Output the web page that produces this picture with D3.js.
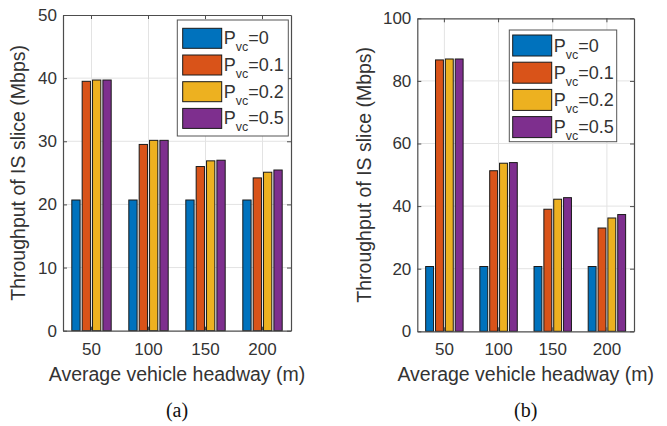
<!DOCTYPE html>
<html>
<head>
<meta charset="utf-8">
<script src="https://cdn.jsdelivr.net/npm/d3@7"></script>
<style>
  html, body { margin: 0; padding: 0; background: #fff; }
  svg { display: block; }
  text { font-family: "Liberation Sans", Arial, Helvetica, sans-serif; }
</style>
</head>
<body>
<svg id="chart" width="667" height="426"></svg>
<script>
// Headway categories (m) and vehicle-connection probabilities
const categories = ["50", "100", "150", "200"];
const pvcLabels = ["0", "0.1", "0.2", "0.5"];

// (a) throughput of the IS slice, Mbps
const a_pvc0  = [20.7, 20.7, 20.7, 20.7];
const a_pvc01 = [39.5, 29.5, 26.0, 24.2];
const a_pvc02 = [39.7, 30.15, 26.9, 25.1];
const a_pvc05 = [39.7, 30.15, 27.0, 25.45];

// (b) throughput of the IS slice, Mbps
const b_pvc0  = [20.7, 20.7, 20.7, 20.7];
const b_pvc01 = [86.7, 51.3, 39.0, 33.0];
const b_pvc02 = [87.0, 53.7, 42.2, 36.2];
const b_pvc05 = [87.0, 53.9, 42.7, 37.3];

const yTicksA = [0, 10, 20, 30, 40, 50];
const yTicksB = [0, 20, 40, 60, 80, 100];

const colors = ["#0072BD", "#D95319", "#EDB120", "#7E2F8E"];
const textColor = "#333";
const axisColor = "#4d4d4d";
const gridColor = "#e3e3e3";

const svg = d3.select("#chart");

function drawPanel(cfg) {
  const g = svg.append("g").attr("transform", `translate(${cfg.left},${cfg.top})`);
  const W = cfg.width, H = cfg.height;

  const x0 = d3.scaleBand().domain(categories).range([0, W]).padding(0);
  const groupFrac = 4 / (4 + 1.5);
  const bw = x0.bandwidth();
  const x1 = d3.scaleBand().domain(d3.range(cfg.series.length))
    .range([bw * (1 - groupFrac) / 2, bw * (1 + groupFrac) / 2])
    .paddingInner(0.2).paddingOuter(0.1);
  const y = d3.scaleLinear().domain([0, cfg.yTicks[cfg.yTicks.length - 1]]).range([H, 0]);

  // grid
  g.append("g").selectAll("line.gy").data(cfg.yTicks.slice(1, -1)).join("line")
    .attr("x1", 0).attr("x2", W).attr("y1", d => y(d)).attr("y2", d => y(d))
    .attr("stroke", gridColor).attr("stroke-width", 1);
  g.append("g").selectAll("line.gx").data(categories).join("line")
    .attr("x1", d => x0(d) + bw / 2).attr("x2", d => x0(d) + bw / 2)
    .attr("y1", 0).attr("y2", H)
    .attr("stroke", gridColor).attr("stroke-width", 1);

  // bars
  cfg.series.forEach((vals, si) => {
    g.append("g").selectAll("rect").data(vals).join("rect")
      .attr("x", (d, i) => x0(categories[i]) + x1(si))
      .attr("width", x1.bandwidth())
      .attr("y", d => y(d))
      .attr("height", d => H - y(d))
      .attr("fill", colors[si])
      .attr("stroke", "#1a1a1a")
      .attr("stroke-width", 1);
  });

  // axes (ticks inward)
  const yAxis = d3.axisLeft(y).tickValues(cfg.yTicks).tickSizeInner(-4).tickSizeOuter(0).tickPadding(6);
  const yAxisR = d3.axisRight(y).tickValues(cfg.yTicks).tickSizeInner(-4).tickSizeOuter(0).tickFormat("");
  const xAxis = d3.axisBottom(x0).tickSizeInner(-4).tickSizeOuter(0).tickPadding(12);
  const xAxisT = d3.axisTop(x0).tickSizeInner(-4).tickSizeOuter(0).tickFormat("");

  const styleAxis = sel => {
    sel.selectAll("path").attr("stroke", axisColor).attr("stroke-width", 1.2);
    sel.selectAll("line").attr("stroke", axisColor);
    sel.selectAll("text").attr("fill", textColor).style("font-size", "17px")
      .style("font-family", '"Liberation Sans", Arial, sans-serif');
  };

  g.append("g").call(yAxis).call(styleAxis);
  g.append("g").attr("transform", `translate(${W},0)`).call(yAxisR).call(styleAxis);
  g.append("g").attr("transform", `translate(0,${H})`).call(xAxis).call(styleAxis);
  g.append("g").call(xAxisT).call(styleAxis);

  // axis labels
  g.append("text")
    .attr("x", W / 2).attr("y", H + 50)
    .attr("text-anchor", "middle").attr("fill", textColor)
    .style("font-size", "19.5px")
    .text("Average vehicle headway (m)");
  g.append("text")
    .attr("transform", `translate(${cfg.ylabelX},${H / 2}) rotate(-90)`)
    .attr("text-anchor", "middle").attr("fill", textColor)
    .style("font-size", "19.5px")
    .text("Throughput of IS slice (Mbps)");

  // legend
  const lg = svg.append("g").attr("transform", `translate(${cfg.legend.x},${cfg.legend.y})`);
  lg.append("rect").attr("width", cfg.legend.w).attr("height", cfg.legend.h)
    .attr("fill", "#fff").attr("stroke", "#555").attr("stroke-width", 1);
  pvcLabels.forEach((lab, i) => {
    const ry = cfg.legend.padTop + i * cfg.legend.pitch;
    lg.append("rect")
      .attr("x", cfg.legend.padLeft).attr("y", ry)
      .attr("width", cfg.legend.sw).attr("height", cfg.legend.sh)
      .attr("fill", colors[i]).attr("stroke", "#1a1a1a").attr("stroke-width", 1);
    const t = lg.append("text")
      .attr("x", cfg.legend.padLeft + cfg.legend.sw + 2)
      .attr("y", ry + cfg.legend.sh / 2 + 6)
      .attr("fill", textColor).style("font-size", "18px");
    t.append("tspan").text("P");
    t.append("tspan").attr("dy", 7).style("font-size", "12.5px").text("vc");
    t.append("tspan").attr("dy", -7).text("=" + lab);
  });

  // caption
  svg.append("text")
    .attr("x", cfg.left + W / 2).attr("y", 417)
    .attr("text-anchor", "middle").attr("fill", "#111")
    .style("font-family", '"Liberation Serif", "Times New Roman", serif')
    .style("font-size", "20px")
    .text(cfg.caption);
}

drawPanel({
  left: 63, top: 15, width: 228, height: 315.7,
  yTicks: yTicksA,
  series: [a_pvc0, a_pvc01, a_pvc02, a_pvc05],
  ylabelX: -38.5,
  legend: { x: 177.3, y: 20, w: 111, h: 116, padLeft: 5.4, padTop: 8.3, pitch: 26.7, sw: 39, sh: 20 },
  caption: "(a)"
});

drawPanel({
  left: 417.3, top: 18.3, width: 216.7, height: 313,
  yTicks: yTicksB,
  series: [b_pvc0, b_pvc01, b_pvc02, b_pvc05],
  ylabelX: -46.5,
  legend: { x: 509.3, y: 30, w: 107.4, h: 111.7, padLeft: 3.4, padTop: 5, pitch: 27.2, sw: 39, sh: 21 },
  caption: "(b)"
});
</script>
</body>
</html>
